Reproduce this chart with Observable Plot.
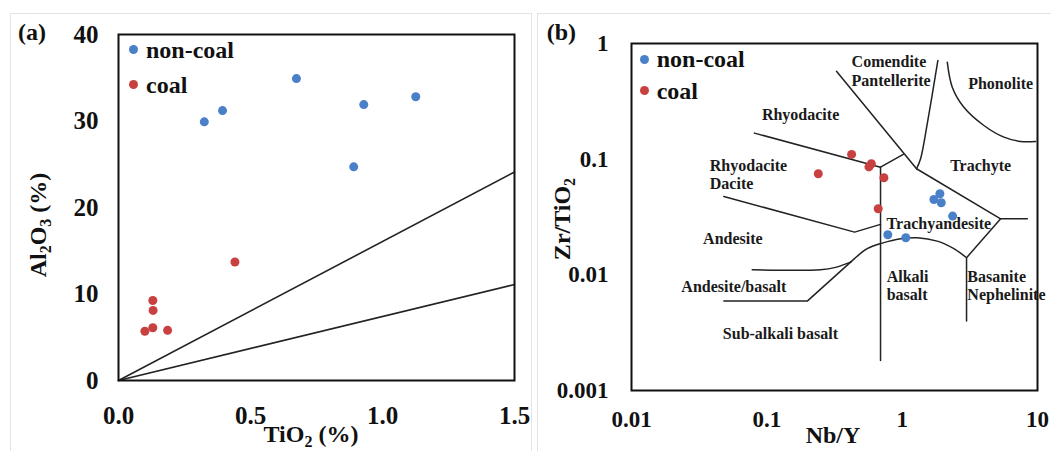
<!DOCTYPE html>
<html>
<head>
<meta charset="utf-8">
<script src="https://cdn.jsdelivr.net/npm/d3@7"></script>
<script src="https://cdn.jsdelivr.net/npm/@observablehq/plot@0.6"></script>
<style>
  body { margin: 0; background: #fff; }
  #wrap { position: relative; width: 1051px; height: 451px; overflow: hidden;
          font-family: "Liberation Serif", "Times New Roman", serif; font-weight: bold; color: #111; }
  .panel { position: absolute; top: 0; }
  .box { position: absolute; border: 1px solid #e3e3e3; z-index: 2; pointer-events: none; }
  .leg { position: absolute; font-size: 24px; line-height: 1; white-space: nowrap; z-index: 3;
         font-family: "Liberation Serif", "Times New Roman", serif; font-weight: bold; }
  .mk { position: absolute; width: 9px; height: 9px; border-radius: 50%; z-index: 3; }
</style>
</head>
<body>
<div id="wrap">
  <div class="box" style="left:10px;top:13px;width:520px;height:460px;"></div>
  <div class="box" style="left:537px;top:13px;width:530px;height:460px;"></div>
  <div class="panel" id="pa" style="left:0px;width:530px;height:451px;"></div>
  <div class="panel" id="pb" style="left:530px;width:521px;height:451px;"></div>
</div>
<script>
// ---------- Panel (a): Al2O3 vs TiO2 ----------
const nonCoalTiO2   = [0.325, 0.394, 0.674, 0.929, 1.126, 0.891];
const nonCoalAl2O3  = [29.9, 31.2, 34.9, 31.9, 32.8, 24.7];
const coalTiO2      = [0.441, 0.130, 0.131, 0.130, 0.100, 0.186];
const coalAl2O3     = [13.7, 9.25, 8.1, 6.1, 5.7, 5.8];
const ratioLineTiO2 = [0, 1.5];
const ratioLineHigh = [0, 24.1];
const ratioLineLow  = [0, 11.1];
const xTicksA = [0, 0.5, 1.0, 1.5];
const yTicksA = [0, 10, 20, 30, 40];

// ---------- Panel (b): Zr/TiO2 vs Nb/Y (Winchester & Floyd) ----------
const nonCoalNbY  = [1.716, 1.90, 1.945, 2.36, 0.783, 1.064];
const nonCoalZrTi = [0.0448, 0.0502, 0.0420, 0.0322, 0.0222, 0.0209];
const coalNbY     = [0.423, 0.592, 0.568, 0.240, 0.733, 0.665];
const coalZrTi    = [0.110, 0.0912, 0.0857, 0.0748, 0.0691, 0.0373];
const xTicksB = [0.01, 0.1, 1, 10];
const yTicksB = [0.001, 0.01, 0.1, 1];

// field boundaries, [Nb/Y, Zr/TiO2]
const bComendite   = [[0.327, 0.576], [1.277, 0.0826]];
const bRhyodacite  = [[0.081, 0.168], [0.692, 0.0853], [1.019, 0.110]];
const bComTrachyte = [[1.277, 0.0826], [1.368, 0.1008], [1.532, 0.2023], [1.836, 0.713]];
const bPhonolite   = [[2.155, 0.689], [2.345, 0.419], [2.857, 0.281], [4.017, 0.1955], [5.645, 0.155], [7.5, 0.1423], [9.7, 0.1423]];
const bTrachyte    = [[1.277, 0.0826], [5.34, 0.0305], [8.41, 0.0305]];
const bBasanite    = [[5.34, 0.0305], [2.99, 0.01406], [2.99, 0.00398]];
const bAndesite    = [[0.0481, 0.0476], [0.445, 0.0234], [0.692, 0.0273]];
const bVertical    = [[0.692, 0.0853], [0.692, 0.00182]];
const bSubAlkali   = [[0.0481, 0.00593], [0.199, 0.00593], [0.416, 0.01288]];
const bAlkaliArch  = [[0.416, 0.01288], [0.552, 0.01682], [0.713, 0.0188], [0.973, 0.0205], [1.294, 0.02093], [1.817, 0.01955], [2.41, 0.01682], [2.99, 0.01406]];
const bAndBasalt   = [[0.078, 0.01107], [0.249, 0.01107], [0.322, 0.0116], [0.416, 0.01288]];

// field names and their place in data space
// names whose text starts at the given point
const leftNames = ["Comendite", "Pantellerite", "Rhyodacite", "Dacite", "Alkali", "basalt", "Basanite", "Nephelinite"];
const leftNbY   = [0.423, 0.423, 0.0379, 0.0379, 0.768, 0.768, 3.03, 3.03];
const leftZrTi  = [0.689, 0.479, 0.0882, 0.0613, 0.00969, 0.00677, 0.00969, 0.00677];
// names centred on the given point
const midNames  = ["Phonolite", "Rhyodacite", "Trachyte", "Trachyandesite", "Andesite", "Andesite/basalt", "Sub-alkali basalt"];
const midNbY    = [5.34, 0.1775, 3.80, 1.867, 0.0561, 0.0570, 0.126];
const midZrTi   = [0.449, 0.243, 0.0882, 0.0277, 0.0205, 0.00783, 0.0031];

const BLUE = "#4a80c8";
const RED  = "#c8403f";
const FONT = '"Liberation Serif", "Times New Roman", serif';

// ----- Panel (a)
const plotA = Plot.plot({
  width: 530, height: 451,
  marginLeft: 118, marginRight: 16, marginTop: 34, marginBottom: 71,
  style: { fontFamily: FONT, fontWeight: "bold", fontSize: "25px", color: "#111", background: "transparent", overflow: "visible" },
  x: { domain: [0, 1.5], ticks: xTicksA, tickFormat: d3.format(".1f"), tickSize: 0, tickPadding: 26, label: null },
  y: { domain: [0, 40], ticks: yTicksA, tickSize: 0, tickPadding: 20, label: null },
  marks: [
    Plot.line(ratioLineTiO2, { x: ratioLineTiO2, y: ratioLineHigh, stroke: "#222", strokeWidth: 1.6 }),
    Plot.line(ratioLineTiO2, { x: ratioLineTiO2, y: ratioLineLow, stroke: "#222", strokeWidth: 1.6 }),
    Plot.dot(nonCoalTiO2, { x: nonCoalTiO2, y: nonCoalAl2O3, r: 4.5, fill: BLUE }),
    Plot.dot(coalTiO2, { x: coalTiO2, y: coalAl2O3, r: 4.5, fill: RED }),
    Plot.frame({ stroke: "#111", strokeWidth: 2 })
  ]
});
document.getElementById("pa").appendChild(plotA);

// ----- Panel (b)
const boundaryLine = (arr, curve) => Plot.line(arr, { x: d => d[0], y: d => d[1], stroke: "#222", strokeWidth: 1.5, curve: curve || "linear" });
const plotB = Plot.plot({
  width: 521, height: 451,
  marginLeft: 101, marginRight: 14, marginTop: 43, marginBottom: 61,
  style: { fontFamily: FONT, fontWeight: "bold", fontSize: "23px", color: "#111", background: "transparent", overflow: "visible" },
  x: { type: "log", domain: [0.01, 10], ticks: xTicksB, tickFormat: d => String(d), tickSize: 0, tickPadding: 20, label: null },
  y: { type: "log", domain: [0.001, 1], ticks: yTicksB, tickFormat: d => String(d), tickSize: 0, tickPadding: 23, label: null },
  marks: [
    boundaryLine(bComendite),
    boundaryLine(bRhyodacite),
    boundaryLine(bComTrachyte, "catmull-rom"),
    boundaryLine(bPhonolite, "catmull-rom"),
    boundaryLine(bTrachyte),
    boundaryLine(bBasanite),
    boundaryLine(bAndesite),
    boundaryLine(bVertical),
    boundaryLine(bSubAlkali),
    boundaryLine(bAlkaliArch, "catmull-rom"),
    boundaryLine(bAndBasalt, "catmull-rom"),
    Plot.text(leftNames, { x: leftNbY, y: leftZrTi, text: leftNames, textAnchor: "start",
      fontSize: 16, fontWeight: "bold", fontFamily: FONT, fill: "#1a1a1a" }),
    Plot.text(midNames, { x: midNbY, y: midZrTi, text: midNames, textAnchor: "middle",
      fontSize: 16, fontWeight: "bold", fontFamily: FONT, fill: "#1a1a1a" }),
    Plot.dot(nonCoalNbY, { x: nonCoalNbY, y: nonCoalZrTi, r: 4.5, fill: BLUE }),
    Plot.dot(coalNbY, { x: coalNbY, y: coalZrTi, r: 4.5, fill: RED }),
    Plot.frame({ stroke: "#111", strokeWidth: 2 })
  ]
});
document.getElementById("pb").appendChild(plotB);

// ----- titles (text only)
function addText(svg, opts, parts) {
  const t = d3.select(svg).append("text")
    .attr("text-anchor", opts.anchor || "middle")
    .attr("font-size", opts.size || 24)
    .attr("font-weight", "bold")
    .attr("font-family", FONT)
    .attr("fill", "#111")
    .attr("transform", opts.transform);
  parts.forEach(p => {
    const s = t.append("tspan").text(p.t);
    if (p.sub) s.attr("font-size", 16).attr("dy", 5);
    if (p.back) s.attr("dy", -5);
  });
}
addText(plotA, { transform: "translate(18,40)", anchor: "start" }, [{ t: "(a)" }]);
addText(plotA, { transform: "translate(311,442)" }, [{ t: "TiO" }, { t: "2", sub: true }, { t: " (%)", back: true }]);
addText(plotA, { transform: "translate(45.5,225) rotate(-90)" }, [{ t: "Al" }, { t: "2", sub: true }, { t: "O", back: true }, { t: "3", sub: true }, { t: " (%)", back: true }]);
addText(plotB, { transform: "translate(16.7,40)", anchor: "start" }, [{ t: "(b)" }]);
addText(plotB, { transform: "translate(303,443)" }, [{ t: "Nb/Y" }]);
addText(plotB, { transform: "translate(40,219) rotate(-90)" }, [{ t: "Zr/TiO" }, { t: "2", sub: true }]);

// ----- legends
function legend(panelId, items) {
  const host = document.getElementById(panelId);
  items.forEach(it => {
    const m = document.createElement("div");
    m.className = "mk";
    m.style.left = (it.mx - 4.5) + "px"; m.style.top = (it.my - 4.5) + "px"; m.style.background = it.color;
    host.appendChild(m);
    const l = document.createElement("div");
    l.className = "leg"; l.textContent = it.label;
    l.style.left = it.tx + "px"; l.style.top = it.ty + "px";
    host.appendChild(l);
  });
}
legend("pa", [
  { label: "non-coal", color: BLUE, mx: 133, my: 49.7, tx: 146, ty: 37.9 },
  { label: "coal", color: RED, mx: 133, my: 84.5, tx: 146, ty: 72.9 }
]);
legend("pb", [
  { label: "non-coal", color: BLUE, mx: 114.3, my: 59.3, tx: 126.7, ty: 46.6 },
  { label: "coal", color: RED, mx: 114.3, my: 90.7, tx: 126.7, ty: 78.6 }
]);
</script>
</body>
</html>
